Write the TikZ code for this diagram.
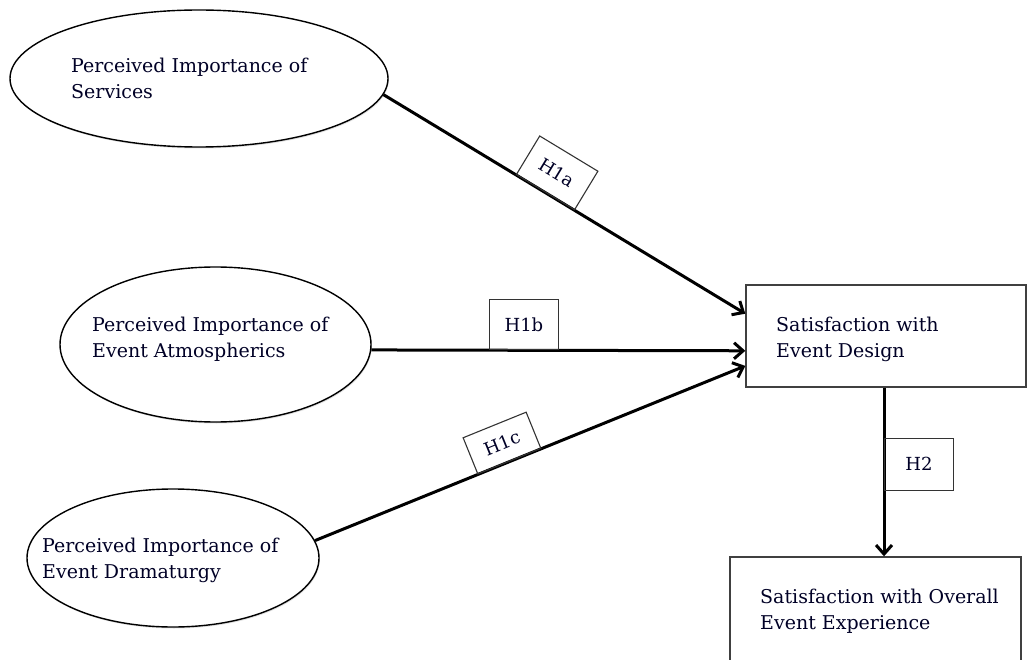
\documentclass[tikz,border=0pt]{standalone}
\usepackage{fontspec}
\setmainfont{DejaVu Serif}
\usetikzlibrary{shapes.geometric,arrows.meta,shadows}
\begin{document}
\begin{tikzpicture}[x=1pt,y=-1pt,
  ell/.style={ellipse, draw=black, line width=1.4pt, fill=white, inner sep=0pt,
    drop shadow={opacity=0.25, shadow xshift=0.8pt, shadow yshift=-1.5pt}},
  bx/.style={rectangle, draw=black!75, line width=1.4pt, fill=white, inner sep=0pt,
    drop shadow={opacity=0.2, shadow xshift=0.8pt, shadow yshift=-1.2pt}},
  lbl/.style={rectangle, draw=black!80, line width=1.1pt, inner sep=0pt,
    minimum width=68pt, font=\fontsize{18}{22}\selectfont, text=black!85!blue},
  arr/.style={line width=3pt, -{Straight Barb[length=9pt,width=16pt]}},
  txt/.style={font=\fontsize{19}{26}\selectfont, align=left, inner sep=0pt, text=black!85!blue}]
\clip (0,0) rectangle (1027,660);
% ellipses
\node[ell, minimum width=378pt, minimum height=137pt] (e1) at (199,78.5) {};
\node[ell, minimum width=311pt, minimum height=155pt] (e2) at (215.5,344.5) {};
\node[ell, minimum width=292pt, minimum height=138pt] (e3) at (173,558) {};
% boxes
\node[bx, minimum width=280pt, minimum height=102pt] (b1) at (886,336) {};
\node[bx, minimum width=291pt, minimum height=106pt] (b2) at (875.5,610) {};
% texts
\node[txt, anchor=base west] (t1) at (71,99) {Perceived Importance of\\Services};
\node[txt, anchor=base west] (t2) at (92,357) {Perceived Importance of\\Event Atmospherics};
\node[txt, anchor=base west] (t3) at (42,578) {Perceived Importance of\\Event Dramaturgy};
\node[txt, anchor=base west] (t4) at (776,357) {Satisfaction with\\Event Design};
\node[txt, anchor=base west] (t5) at (760,629) {Satisfaction with Overall\\Event Experience};
% connectors
\draw[arr] (e1.-5) -- node[lbl, sloped, anchor=south, pos=0.447, minimum height=45pt] (h1a) {H1a} (b1.171.5);
\draw[arr] (e2.-2.8) -- node[lbl, anchor=south, pos=0.408, minimum height=50pt, minimum width=69pt] (h1b) {H1b} (b1.186.5);
\draw[arr] (e3.7) -- node[lbl, sloped, anchor=south, pos=0.452, minimum height=39pt] (h1c) {H1c} (b1.192.8);
\draw[arr] ([xshift=-2pt]b1.south) -- node[lbl, anchor=west, pos=0.453, minimum height=52pt, minimum width=69pt] (h2) {H2} ([xshift=8.5pt]b2.north);
\end{tikzpicture}
\end{document}
